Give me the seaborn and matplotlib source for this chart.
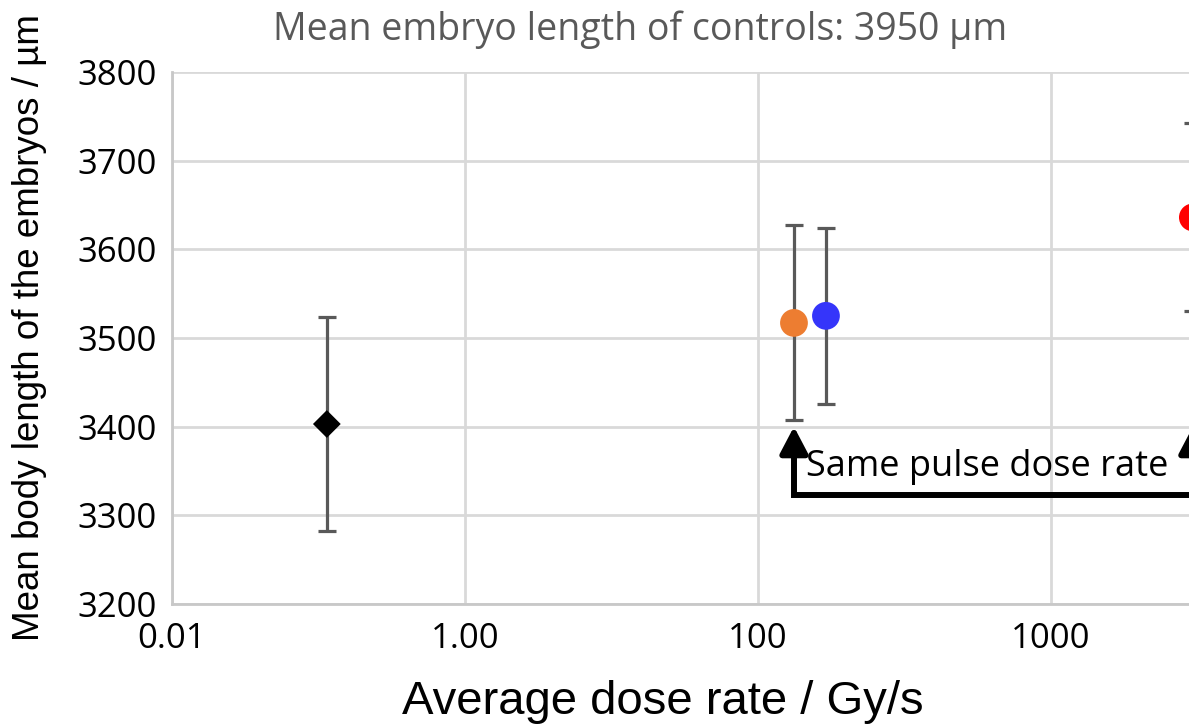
import numpy as np
import pandas as pd
import matplotlib
matplotlib.use("Agg")
import matplotlib.pyplot as plt
import seaborn as sns

# ---- data ----
conditions = ["Conventional", "Pulsed A", "Pulsed B", "Pulsed C"]
dose_rate = [0.114, 176.0, 291.0, 93000.0]          # Gy/s (positions on the chart's log axis)
mean_length = [3403, 3517, 3525, 3636]               # µm
err_length = [121, 110, 99, 106]                     # µm (symmetric error bars)
colors = ["#000000", "#ED7D31", "#3535FA", "#FF0000"]
marker_shapes = ["D", "o", "o", "o"]

x_tick_values = [1e-2, 1e0, 1e2, 1e4]
x_tick_labels = ["0.01", "1.00", "100", "1000"]
y_ticks = [3200, 3300, 3400, 3500, 3600, 3700, 3800]

title_text = "Mean embryo length of controls: 3950 µm"
annotation_text = "Same pulse dose rate"
bracket_bottom = 3323
arrow_tip = 3400

df = pd.DataFrame({"condition": conditions, "dose_rate": dose_rate,
                   "mean": mean_length, "err": err_length})

sns.set_theme(style="white")
plt.rcParams["font.family"] = ["Liberation Sans", "DejaVu Sans"]

fig = plt.figure(figsize=(11.89, 7.25), dpi=100)
W, H = 1189, 725
ax = fig.add_axes([172 / W, (H - 604) / H, 1172 / W, 532 / H])

# error bars
for xv, yv, ev in zip(dose_rate, mean_length, err_length):
    ax.errorbar(xv, yv, yerr=ev, fmt="none", ecolor="#595959", elinewidth=2.3,
                capsize=6.5, capthick=2.3, zorder=2)

sns.scatterplot(data=df, x="dose_rate", y="mean", hue="condition", style="condition",
                size="condition",
                palette=dict(zip(conditions, colors)),
                markers=dict(zip(conditions, marker_shapes)),
                sizes=dict(zip(conditions, [200, 400, 400, 400])),
                edgecolor="none", linewidth=0, legend=False, ax=ax, zorder=3)

ax.set_xscale("log")
ax.set_xlim(1e-2, 1e6)
ax.set_ylim(3200, 3800)
ax.set_xticks(x_tick_values)
ax.set_xticklabels(x_tick_labels)
ax.xaxis.set_minor_locator(matplotlib.ticker.NullLocator())
ax.set_yticks(y_ticks)
ax.set_yticklabels([str(v) for v in y_ticks])

for lab in ax.get_xticklabels() + ax.get_yticklabels():
    lab.set_family(["Open Sans", "DejaVu Sans"])
    lab.set_fontsize(25)
    lab.set_color("black")
ax.tick_params(axis="both", length=0)
ax.tick_params(axis="y", pad=11)
ax.tick_params(axis="x", pad=13)

ax.grid(True, axis="both", color="#D9D9D9", linewidth=2)
ax.set_axisbelow(True)
for s in ["top", "right"]:
    ax.spines[s].set_visible(False)
for s in ["left", "bottom"]:
    ax.spines[s].set_color("#C8C8C8")
    ax.spines[s].set_linewidth(2)

ax.set_xlabel("Average dose rate / Gy/s", fontsize=34, color="black")
ax.xaxis.set_label_coords((663 - 172) / 1172, -(702 - 604) / 532)
ax.xaxis.label.set_va("center")
ax.set_ylabel("Mean body length of the embryos / µm", fontsize=26.5, color="black")
ax.yaxis.set_label_coords(-(172 - 30) / 1172, (604 - 328) / 532)
ax.yaxis.label.set_va("center")

fig.text(640 / W, 1 - 30 / H, title_text, ha="center", va="center", fontsize=27,
         color="#595959", family=["Open Sans", "DejaVu Sans"])

# bracket with arrows
x_left, x_right = dose_rate[1], dose_rate[3]
ax.plot([x_left, x_left, x_right, x_right], [arrow_tip - 15, bracket_bottom, bracket_bottom, arrow_tip - 15],
        color="black", lw=4.3, solid_joinstyle="miter", solid_capstyle="butt", zorder=4, clip_on=False)
for xv in (x_left, x_right):
    ax.annotate("", xy=(xv, arrow_tip), xytext=(xv, arrow_tip - 20),
                arrowprops=dict(arrowstyle="-|>,head_length=0.8,head_width=0.42",
                                mutation_scale=20, color="black", lw=4.3,
                                shrinkA=0, shrinkB=0), zorder=4, annotation_clip=False)
ax.text(3656, 3355, annotation_text, ha="center", va="center", fontsize=26,
        family=["Open Sans", "DejaVu Sans"], color="black", zorder=5)

fig.savefig("out.png", dpi=100)
